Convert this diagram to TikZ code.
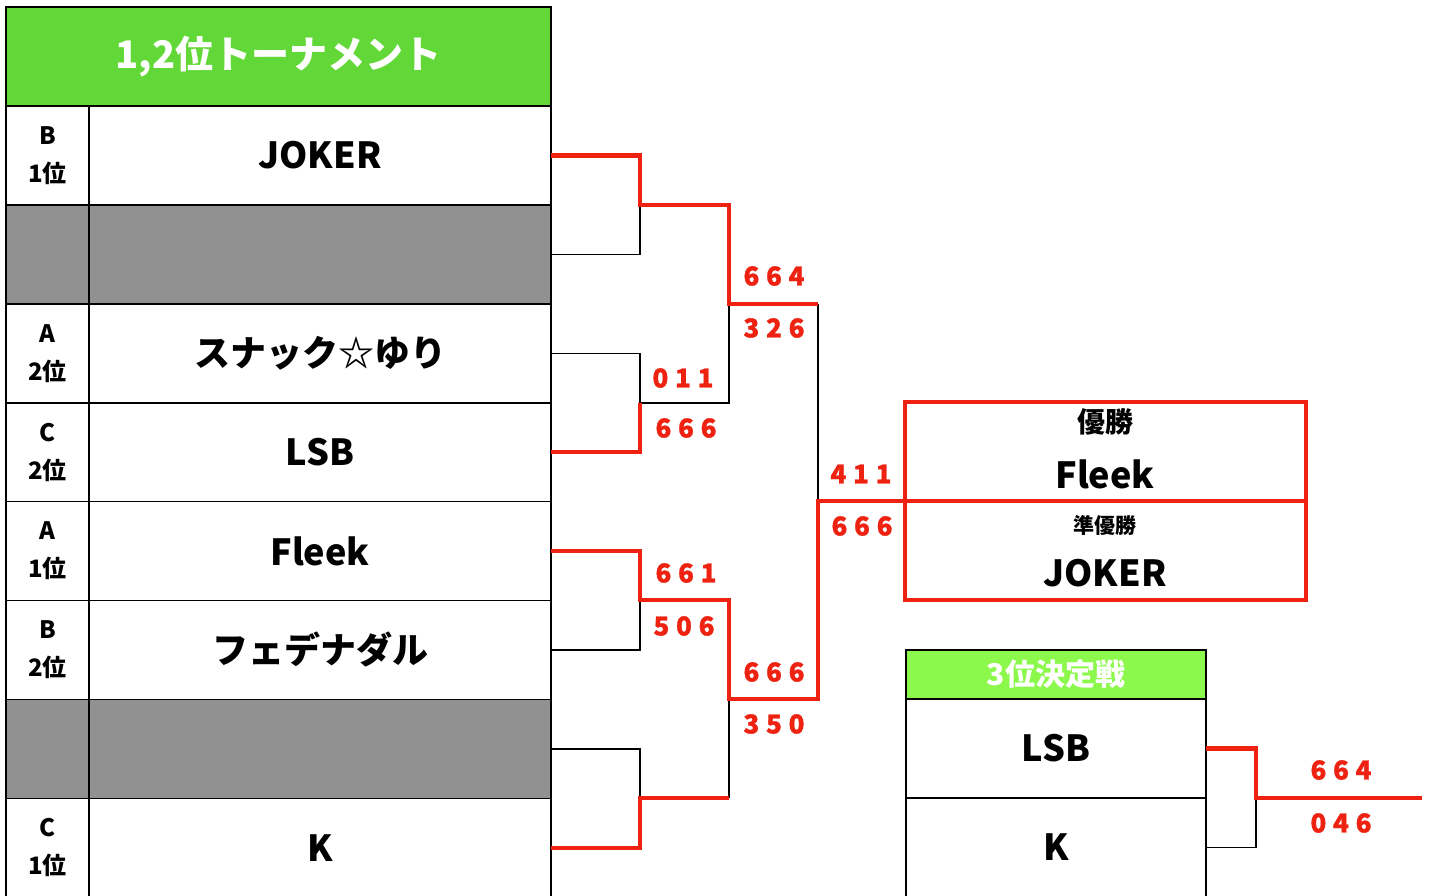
\documentclass[tikz,border=0pt]{standalone}
\usepackage{fontspec}
\setmainfont{Noto Sans CJK JP}
\newfontfamily\scorefont{Noto Sans CJK JP}[BoldFeatures={FakeBold=1.2}]
\definecolor{grn}{HTML}{62D838}
\definecolor{grn2}{HTML}{8CF84C}
\definecolor{gry}{HTML}{919191}
\definecolor{rd}{HTML}{EE2211}
\newcommand\trip[3]{#1\kern.26em#2\kern.26em#3}
\tikzset{
  cell/.style={draw=black, line width=1.6pt, anchor=north west, inner sep=0pt, outer sep=0pt},
  rank/.style={cell, minimum width=83pt, minimum height=98.9pt, align=center,
    font=\fontsize{24}{38}\selectfont\bfseries},
  team/.style={cell, minimum width=462pt, minimum height=98.9pt,
    font=\fontsize{36}{40}\selectfont\bfseries},
  lose/.style={draw=black, line width=1.4pt},
  win/.style={draw=rd, line width=4.5pt},
  score/.style={text=rd, inner sep=0pt, font=\fontsize{26}{28}\selectfont\scorefont\bfseries},
  wbox/.style={draw=rd, line width=4pt, anchor=north west, minimum width=401pt, minimum height=99pt, inner sep=0pt, outer sep=0pt},
  btxt/.style={inner sep=0pt, font=\fontsize{36}{40}\selectfont\bfseries}
}
\begin{document}
\begin{tikzpicture}[x=1pt, y=-1pt]
\useasboundingbox (0,0) rectangle (1432,895);
\fill[white] (0,0) rectangle (1432,895);
% title
\node[cell, fill=grn, minimum width=545pt, minimum height=99pt, text=white,
  font=\fontsize{38}{40}\selectfont\bfseries] (title) at (6,7) {1,2位トーナメント};
% rows
\foreach \i/\r/\t/\f in {1/{B\\1位}/{JOKER}/white, 2/{}/{}/gry, 3/{A\\2位}/{スナック☆ゆり}/white,
  4/{C\\2位}/{LSB}/white, 5/{A\\1位}/{Fleek}/white, 6/{B\\2位}/{フェデナダル}/white,
  7/{}/{}/gry, 8/{C\\1位}/{K}/white}{
  \node[rank, fill=\f] (k\i) at (6,{106+98.9*(\i-1)}) {\r};
  \node[team, fill=\f] (n\i) at (89,{106+98.9*(\i-1)}) {\t};
}
% junctions
\coordinate (r1a) at (640,205);
\coordinate (r1b) at (640,403);
\coordinate (r1c) at (640,600);
\coordinate (r1d) at (640,798);
\coordinate (r2a) at (729,304);
\coordinate (r2b) at (729,699);
\coordinate (f) at (818,501);
% final boxes
\node[wbox] (champ) at (905,402) {};
\node[wbox] (runner) at (905,501) {};
\node[inner sep=0pt, font=\fontsize{28}{30}\selectfont\bfseries] (champlbl) at (1105,422) {優勝};
\node[btxt] (champname) at (1105,474) {Fleek};
\node[inner sep=0pt, font=\fontsize{21}{24}\selectfont\bfseries] (runlbl) at (1105,526) {準優勝};
\node[btxt] (runname) at (1105,573) {JOKER};
% losing lines
\draw[lose] (n2.east) -| (r1a);
\draw[lose] (n3.east) -| (r1b) -- (r1b -| r2a) -- (r2a);
\draw[lose] (n6.east) -| (r1c);
\draw[lose] (n7.east) -| (r1d);
\draw[lose] (r1d -| r2b) -- (r2b);
\draw[lose] (r2a -| f) -- (f);
% winning lines
\draw[win] (n1.east) -| (r1a) -- (r1a -| r2a) -- (r2a) -- (r2a -| f);
\draw[win] (n4.east) -| (r1b);
\draw[win] (n5.east) -| (r1c) -- (r1c -| r2b) -- (r2b) -- (r2b -| f) -- (f) -- (runner.north west);
\draw[win] (n8.east) -| (r1d) -- (r1d -| r2b);
% scores
\node[score] (s1) at (774,276) {\trip664};
\node[score] (s2) at (774,328) {\trip326};
\node[score] (s3) at (683,378) {\trip011};
\node[score] (s4) at (686,428) {\trip666};
\node[score] (s5) at (686,573) {\trip661};
\node[score] (s6) at (684,626) {\trip506};
\node[score] (s7) at (774,672) {\trip666};
\node[score] (s8) at (774,724) {\trip350};
\node[score] (s9) at (861,474) {\trip411};
\node[score] (s10) at (862,526) {\trip666};
% third place
\node[cell, fill=grn2, minimum width=300pt, minimum height=49pt, text=white,
  font=\fontsize{30}{32}\selectfont\bfseries] (ttitle) at (906,650) {3位決定戦};
\node[cell, fill=white, minimum width=300pt, minimum height=99pt,
  font=\fontsize{36}{40}\selectfont\bfseries] (t1) at (906,699) {LSB};
\node[cell, fill=white, minimum width=300pt, minimum height=99pt,
  font=\fontsize{36}{40}\selectfont\bfseries] (t2) at (906,798) {K};
\coordinate (s3rd) at (1256,798);
\coordinate (e3rd) at (1422,798);
\draw[lose] (t2.east) -| (s3rd);
\draw[win] (t1.east) -| (s3rd) -- (e3rd);
\node[score] (s11) at (1341,770) {\trip664};
\node[score] (s12) at (1341,823) {\trip046};
\end{tikzpicture}
\end{document}
